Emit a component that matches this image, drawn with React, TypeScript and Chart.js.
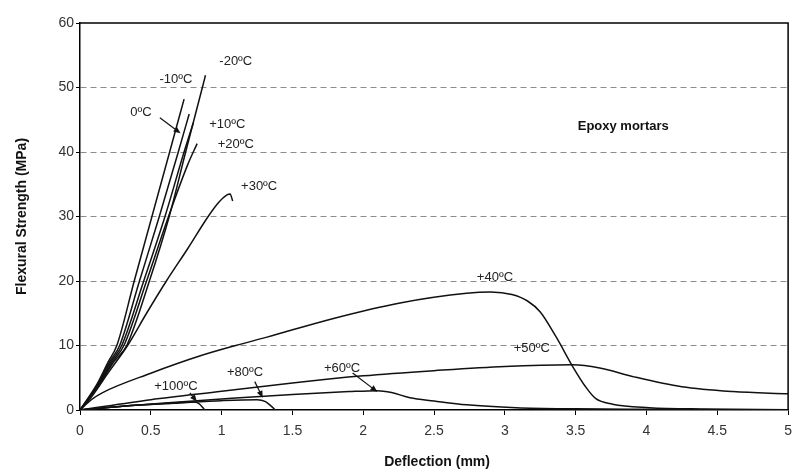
import React, { useEffect, useRef } from "react";
import { Chart, registerables } from "chart.js";

Chart.register(...registerables);

// ---- Data (deflection mm, flexural strength MPa) ----
const xTickValues = [0, 0.5, 1, 1.5, 2, 2.5, 3, 3.5, 4, 4.5, 5];
const yTickValues = [0, 10, 20, 30, 40, 50, 60];

const seriesNames = ["-20ºC", "-10ºC", "0ºC", "+10ºC", "+20ºC", "+30ºC", "+40ºC", "+50ºC", "+60ºC", "+80ºC", "+100ºC"];

const curveMinus20: [number, number][] = [[0, 0], [0.12, 3.4], [0.24, 7.5], [0.33, 10], [0.49, 20], [0.63, 30], [0.746, 40], [0.864, 50], [0.886, 51.9]];
const curveMinus10: [number, number][] = [[0, 0], [0.12, 4], [0.2, 7.5], [0.26, 10], [0.383, 20], [0.508, 30], [0.633, 40], [0.735, 48.2]];
const curve0: [number, number][] = [[0, 0], [0.12, 3.8], [0.21, 7.5], [0.28, 10], [0.42, 20], [0.56, 30], [0.694, 40], [0.771, 45.9]];
const curvePlus10: [number, number][] = [[0, 0], [0.12, 3.6], [0.22, 7.5], [0.295, 10], [0.45, 20], [0.6, 30], [0.735, 40], [0.8, 44.5]];
const curvePlus20: [number, number][] = [[0, 0], [0.12, 3.5], [0.23, 7.5], [0.31, 10], [0.47, 20], [0.625, 30], [0.76, 38], [0.827, 41.3]];
const curvePlus30: [number, number][] = [[0, 0], [0.08, 2], [0.2, 5.8], [0.336, 10], [0.47, 15], [0.61, 20], [0.76, 25], [0.905, 30], [0.98, 32.2], [1.035, 33.3], [1.06, 33.5], [1.078, 32.4]];
const curvePlus40: [number, number][] = [[0, 0], [0.08, 1.6], [0.16, 2.7], [0.5, 5.7], [0.85, 8.4], [1.1, 10], [1.32, 11.3], [1.79, 14.2], [2.26, 16.6], [2.73, 18.1], [2.9, 18.3], [3.05, 17.9], [3.16, 16.9], [3.25, 15.2], [3.36, 11.4], [3.48, 6.7], [3.57, 3.6], [3.64, 1.8], [3.76, 0.9], [4.02, 0.36], [4.4, 0.15], [5, 0.05]];
const curvePlus50: [number, number][] = [[0, 0], [0.5, 1.6], [1.0, 2.9], [1.5, 4.2], [2.0, 5.3], [2.5, 6.1], [3.0, 6.75], [3.48, 7.0], [3.67, 6.5], [3.9, 5.2], [4.25, 3.6], [4.61, 2.85], [5, 2.5]];
const curvePlus60: [number, number][] = [[0, 0], [0.3, 0.6], [0.6, 1.1], [1.0, 1.7], [1.5, 2.4], [1.9, 2.85], [2.1, 3.0], [2.2, 2.7], [2.33, 1.9], [2.5, 1.4], [2.73, 0.8], [3.08, 0.36], [3.5, 0.18], [4, 0.1], [4.5, 0.05]];
const curvePlus80: [number, number][] = [[0, 0], [0.3, 0.6], [0.7, 1.1], [1.0, 1.45], [1.25, 1.6], [1.31, 1.3], [1.35, 0.6], [1.38, 0]];
const curvePlus100: [number, number][] = [[0, 0], [0.3, 0.6], [0.6, 1.0], [0.8, 1.25], [0.84, 1.0], [0.87, 0.3], [0.88, 0]];

const allCurves = [curveMinus20, curveMinus10, curve0, curvePlus10, curvePlus20, curvePlus30, curvePlus40, curvePlus50, curvePlus60, curvePlus80, curvePlus100];

// Curve labels, in data coordinates (mm, MPa)
const labelText = ["-20ºC", "-10ºC", "0ºC", "+10ºC", "+20ºC", "+30ºC", "+40ºC", "+50ºC", "+60ºC", "+80ºC", "+100ºC"];
const labelX = [1.1, 0.677, 0.43, 1.04, 1.1, 1.265, 2.93, 3.19, 1.85, 1.165, 0.677];
const labelY = [54.0, 51.2, 46.2, 44.3, 41.1, 34.7, 20.6, 9.6, 6.5, 5.75, 3.7];

// Arrows: [fromX, fromY, toX, toY] in data coordinates
const arrows: [number, number, number, number][] = [
  [0.564, 45.3, 0.71, 42.9],
  [0.776, 2.64, 0.825, 1.3],
  [1.234, 4.4, 1.29, 1.9],
  [1.925, 5.75, 2.1, 2.8],
];

const noteText = "Epoxy mortars";
const noteX = 3.836;
const noteY = 43.9;

const xTitle = "Deflection (mm)";
const yTitle = "Flexural Strength (MPa)";

const FONT = "'Liberation Sans', Arial, sans-serif";

export default function App() {
  const canvasRef = useRef<HTMLCanvasElement | null>(null);

  useEffect(() => {
    document.body.style.margin = "0";
    const canvas = canvasRef.current;
    if (!canvas) return;

    const annotationPlugin = {
      id: "annotations",
      afterDraw(chart: any) {
        const { ctx, chartArea, scales } = chart;
        const xs = scales.x;
        const ys = scales.y;
        ctx.save();
        // top and right frame
        ctx.strokeStyle = "#000";
        ctx.lineWidth = 1.5;
        ctx.setLineDash([]);
        ctx.beginPath();
        ctx.moveTo(chartArea.left, chartArea.top);
        ctx.lineTo(chartArea.right, chartArea.top);
        ctx.lineTo(chartArea.right, chartArea.bottom);
        ctx.stroke();

        // curve labels
        ctx.fillStyle = "#222";
        ctx.font = `13px ${FONT}`;
        ctx.textAlign = "center";
        ctx.textBaseline = "middle";
        labelText.forEach((t, i) => {
          ctx.fillText(t, xs.getPixelForValue(labelX[i]), ys.getPixelForValue(labelY[i]));
        });
        ctx.font = `bold 13px ${FONT}`;
        ctx.fillStyle = "#111";
        ctx.fillText(noteText, xs.getPixelForValue(noteX), ys.getPixelForValue(noteY));

        // arrows
        ctx.strokeStyle = "#111";
        ctx.fillStyle = "#111";
        ctx.lineWidth = 1.2;
        arrows.forEach(([fx, fy, tx, ty]) => {
          const x1 = xs.getPixelForValue(fx);
          const y1 = ys.getPixelForValue(fy);
          const x2 = xs.getPixelForValue(tx);
          const y2 = ys.getPixelForValue(ty);
          const ang = Math.atan2(y2 - y1, x2 - x1);
          const len = 7;
          const w = 3;
          ctx.beginPath();
          ctx.moveTo(x1, y1);
          ctx.lineTo(x2 - Math.cos(ang) * len * 0.6, y2 - Math.sin(ang) * len * 0.6);
          ctx.stroke();
          ctx.beginPath();
          ctx.moveTo(x2, y2);
          ctx.lineTo(x2 - Math.cos(ang) * len - Math.sin(ang) * w, y2 - Math.sin(ang) * len + Math.cos(ang) * w);
          ctx.lineTo(x2 - Math.cos(ang) * len + Math.sin(ang) * w, y2 - Math.sin(ang) * len - Math.cos(ang) * w);
          ctx.closePath();
          ctx.fill();
        });

        // axis titles
        ctx.fillStyle = "#111";
        ctx.font = `bold 14px ${FONT}`;
        ctx.textAlign = "center";
        ctx.textBaseline = "middle";
        ctx.fillText(xTitle, (chartArea.left + chartArea.right) / 2 + 3, 462);
        ctx.translate(22, (chartArea.top + chartArea.bottom) / 2);
        ctx.rotate(-Math.PI / 2);
        ctx.fillText(yTitle, 0, 0);
        ctx.restore();
      },
    };

    const chart = new Chart(canvas, {
      type: "line",
      data: {
        datasets: allCurves.map((c, i) => ({
          label: seriesNames[i],
          data: c.map(([x, y]) => ({ x, y })),
          borderColor: "#111",
          borderWidth: 1.5,
          pointRadius: 0,
          fill: false,
          cubicInterpolationMode: "monotone" as const,
        })),
      },
      options: {
        animation: false,
        responsive: false,
        maintainAspectRatio: false,
        layout: { padding: { top: 23, right: 11, left: 0, bottom: 0 } },
        plugins: {
          legend: { display: false },
          tooltip: { enabled: false },
        },
        scales: {
          x: {
            type: "linear",
            min: 0,
            max: 5,
            afterFit: (s: any) => {
              s.height = 62;
            },
            afterBuildTicks: (s: any) => {
              s.ticks = xTickValues.map((v) => ({ value: v }));
            },
            ticks: {
              callback: (v: any) => String(v),
              color: "#333",
              font: { family: FONT, size: 14 },
              padding: 8,
              maxRotation: 0,
            },
            grid: {
              drawOnChartArea: false,
              drawTicks: true,
              tickLength: 5,
              tickColor: "#000",
            },
            border: { color: "#000", width: 1.5 },
          },
          y: {
            type: "linear",
            min: 0,
            max: 60,
            afterFit: (s: any) => {
              s.width = 80;
            },
            afterBuildTicks: (s: any) => {
              s.ticks = yTickValues.map((v) => ({ value: v }));
            },
            ticks: {
              callback: (v: any) => String(v),
              color: "#333",
              font: { family: FONT, size: 14 },
              padding: 2,
            },
            grid: {
              color: (ctx: any) =>
                ctx.tick && (ctx.tick.value === 0 || ctx.tick.value === 60) ? "rgba(0,0,0,0)" : "#8c8c8c",
              lineWidth: 1,
              tickLength: 4,
              tickColor: "#000",
            },
            border: { color: "#000", width: 1.5, dash: [6, 4] },
          },
        },
      },
      plugins: [annotationPlugin],
    } as any);

    return () => {
      chart.destroy();
    };
  }, []);

  return (
    <div style={{ width: 800, height: 472, background: "#fff" }}>
      <canvas ref={canvasRef} width={800} height={472} style={{ display: "block" }} />
    </div>
  );
}
